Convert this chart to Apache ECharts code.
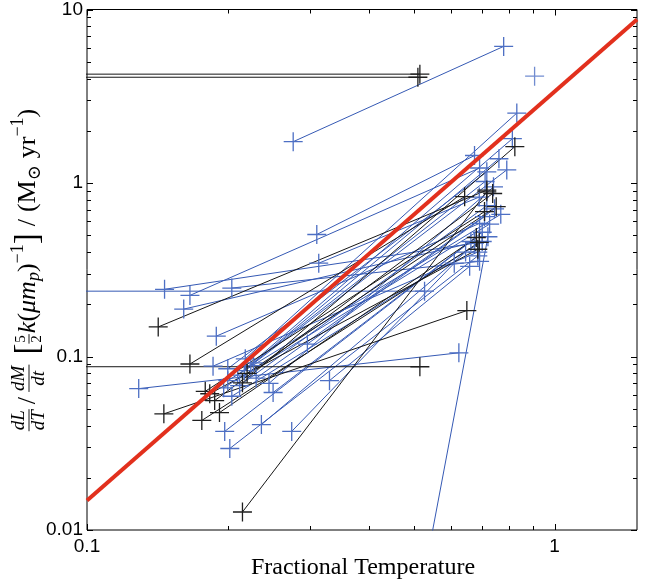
<!DOCTYPE html>
<html><head><meta charset="utf-8">
<script src="https://cdn.jsdelivr.net/npm/echarts@6/dist/echarts.min.js"></script>
<style>html,body{margin:0;padding:0;background:#fff}#c{width:662px;height:583px}</style>
</head><body><div id="c"></div>
<script>
// ---------- data ----------
const xTickLabels = [0.1, 1];
const yTickLabels = [0.01, 0.1, 1, 10];
const xMinorTicks = [0.2, 0.3, 0.4, 0.5, 0.6, 0.7, 0.8, 0.9];
const yMinorTicks = [0.02, 0.03, 0.04, 0.05, 0.06, 0.07, 0.08, 0.09,
                     0.2, 0.3, 0.4, 0.5, 0.6, 0.7, 0.8, 0.9,
                     2, 3, 4, 5, 6, 7, 8, 9];
// each segment: [T_start, value_start, T_end, value_end]
const blackSegments = [
  [0.01, 4.24, 0.515, 4.24],
  [0.01, 4.07, 0.51, 4.07],
  [0.01, 0.0873, 0.515, 0.0873],
  [0.142, 0.148, 0.716, 0.91],
  [0.166, 0.0905, 0.642, 0.834],
  [0.146, 0.0467, 0.649, 0.184],
  [0.176, 0.0428, 0.69, 0.455],
  [0.192, 0.0475, 0.68, 0.485],
  [0.1875, 0.0557, 0.737, 0.87],
  [0.215, 0.0127, 0.716, 0.89],
  [0.215, 0.0705, 0.822, 1.62],
  [0.183, 0.061, 0.685, 0.415],
  [0.179, 0.063, 0.708, 0.684],
  [0.22, 0.08, 0.75, 0.73]
];
const blueSegments = [
  [0.276, 1.73, 0.778, 6.13],
  [0.01, 0.238, 0.527, 0.238],
  [0.129, 0.0653, 0.624, 0.105],
  [0.467, 0.001, 0.72, 0.49],
  [0.31, 0.505, 0.674, 1.44],
  [0.1465, 0.244, 0.674, 0.45],
  [0.166, 0.225, 0.691, 1.22],
  [0.161, 0.1876, 0.674, 0.455],
  [0.204, 0.248, 0.691, 0.3535],
  [0.313, 0.345, 0.69, 0.83],
  [0.189, 0.131, 0.691, 0.585],
  [0.186, 0.088, 0.685, 0.40],
  [0.218, 0.097, 0.83, 2.53],
  [0.20, 0.0726, 0.767, 0.66],
  [0.204, 0.059, 0.70, 0.46],
  [0.197, 0.037, 0.662, 0.46],
  [0.202, 0.0295, 0.685, 0.38],
  [0.236, 0.0405, 0.645, 0.40],
  [0.274, 0.037, 0.61, 0.345],
  [0.33, 0.0726, 0.658, 0.331],
  [0.296, 0.118, 0.708, 0.64],
  [0.21, 0.078, 0.812, 1.80],
  [0.217, 0.083, 0.76, 1.38],
  [0.224, 0.0885, 0.79, 1.19],
  [0.20, 0.085, 0.716, 1.16],
  [0.227, 0.092, 0.71, 1.02],
  [0.196, 0.066, 0.726, 0.58],
  [0.23, 0.075, 0.744, 0.71],
  [0.212, 0.068, 0.716, 0.74],
  [0.25, 0.062, 0.70, 0.52],
  [0.245, 0.07, 0.74, 0.95]
];
const blueSingles = [[0.906, 4.13]];
const redLine = [[0.1, 0.0148], [1.5, 8.75]];

// ---------- chart ----------
const PLUS = 'path://M0,0L0,20M-10,10L10,10';
const BLUE_LINE = '#3559b4', BLUE_MARK = '#4d6fc4';
const BLACK_LINE = '#161616', BLACK_MARK = '#1e1e1e';
function near(a, b) { return Math.abs(a - b) < 1e-6 * Math.max(1, Math.abs(b)); }
function segSeries(s, lc, mc) {
  return {
    type: 'line', data: [[s[0], s[1]], [s[2], s[3]]],
    symbol: PLUS, symbolSize: 19, showSymbol: true, clip: true,
    lineStyle: { color: lc, width: 1 },
    itemStyle: { color: 'none', borderColor: mc, borderWidth: 1.3 },
    emphasis: { disabled: true }, silent: true, z: 2
  };
}
const series = [];
blueSegments.forEach(s => series.push(segSeries(s, BLUE_LINE, BLUE_MARK)));
blackSegments.forEach(s => series.push(segSeries(s, BLACK_LINE, BLACK_MARK)));
series.push({
  type: 'scatter', data: blueSingles, symbol: PLUS, symbolSize: 19,
  itemStyle: { color: 'none', borderColor: BLUE_MARK, borderWidth: 1.3 }, silent: true, z: 2
});
series.push({
  type: 'line', data: redLine, symbol: 'none', clip: true,
  lineStyle: { color: '#e2301d', width: 4 }, silent: true, z: 10
});
// tick marks (major + minor, mirrored on all four sides)
series.push({
  type: 'custom', silent: true, clip: false, z: 12, data: [[0.5, 1]],
  renderItem: function (params, api) {
    const ch = [];
    const bl = api.coord([0.1, 0.01]), tr = api.coord([1.5, 10]);
    const left = bl[0], bottom = bl[1], right = tr[0], top = tr[1];
    const ln = (x1, y1, x2, y2) => ch.push({ type: 'line', shape: { x1, y1, x2, y2 }, style: { stroke: '#000', lineWidth: 1 } });
    const xt = (v, len) => { const p = Math.round(api.coord([v, 1])[0]) + 0.5; ln(p, bottom, p, bottom - len); ln(p, top, p, top + len); };
    const yt = (v, len) => { const p = Math.round(api.coord([1, v])[1]) + 0.5; ln(left, p, left + len, p); ln(right, p, right - len, p); };
    xTickLabels.forEach(v => xt(v, 6));
    xMinorTicks.forEach(v => xt(v, 4));
    yTickLabels.forEach(v => yt(v, 6));
    yMinorTicks.forEach(v => yt(v, 4));
    return { type: 'group', children: ch };
  }
});

// ---------- y-axis label (math) ----------
const SERIF = '"Liberation Serif", "DejaVu Serif", serif';
const mctx = document.createElement('canvas').getContext('2d');
function fnt(size, it) { return (it ? 'italic ' : '') + size + 'px ' + SERIF; }
function tw(t, f) { mctx.font = f; return mctx.measureText(t).width; }
const labelSeq = [
  { frac: ['dL', 'dT'], size: 19, it: true },
  { gap: 5 }, { t: '/', size: 26 }, { gap: 5 },
  { frac: ['dM', 'dt'], size: 19, it: true },
  { gap: 10 }, { t: '[', size: 33 },
  { frac: ['5', '2'], size: 15 }, { gap: 1 },
  { t: 'k', size: 26, it: true }, { t: '(', size: 26 }, { t: 'μ', size: 26, it: true },
  { t: 'm', size: 26, it: true }, { t: 'p', size: 18, it: true, dy: 6 },
  { t: ')', size: 26 }, { t: '−1', size: 18, dy: -10 }, { t: ']', size: 33 },
  { gap: 7 }, { t: '/', size: 26 }, { gap: 7 },
  { t: '(M', size: 26 }, { t: '⊙', size: 18, dy: 7 }, { gap: 7 },
  { t: 'yr', size: 26 }, { t: '−1', size: 18, dy: -10 }, { t: ')', size: 26 }
];
const lab = [];
let cur = 0;
labelSeq.forEach(p => {
  if (p.gap) { cur += p.gap; return; }
  if (p.frac) {
    const f = fnt(p.size, p.it);
    const w = Math.max(tw(p.frac[0], f), tw(p.frac[1], f)) + 2;
    lab.push({ type: 'text', x: cur + w / 2, y: -p.size * 0.52, style: { text: p.frac[0], font: f, fill: '#000', align: 'center', verticalAlign: 'middle', textAlign: 'center', textVerticalAlign: 'middle' } });
    lab.push({ type: 'text', x: cur + w / 2, y: p.size * 0.55, style: { text: p.frac[1], font: f, fill: '#000', align: 'center', verticalAlign: 'middle', textAlign: 'center', textVerticalAlign: 'middle' } });
    lab.push({ type: 'line', shape: { x1: cur, y1: 0, x2: cur + w, y2: 0 }, style: { stroke: '#000', lineWidth: 0.9 } });
    cur += w;
    return;
  }
  const f = fnt(p.size, p.it);
  lab.push({ type: 'text', x: cur, y: (p.dy || 0) - 1, style: { text: p.t, font: f, fill: '#000', align: 'left', verticalAlign: 'middle', textAlign: 'left', textVerticalAlign: 'middle' } });
  cur += tw(p.t, f);
});
const labLen = cur;
lab.forEach(e => { if (e.type === 'text') e.x -= labLen / 2; else { e.shape.x1 -= labLen / 2; e.shape.x2 -= labLen / 2; } });

const chart = echarts.init(document.getElementById('c'), null, { renderer: 'canvas' });
chart.setOption({
  animation: false,
  backgroundColor: '#fff',
  grid: { left: 87, right: 25, top: 7, bottom: 53, show: true, borderColor: '#000', borderWidth: 1, backgroundColor: '#fff' },
  xAxis: {
    type: 'log', logBase: 10, min: 0.1, max: 1.5,
    axisLine: { show: false }, axisTick: { show: false }, splitLine: { show: false },
    axisLabel: {
      margin: 7, color: '#000', fontSize: 19, fontFamily: '"Liberation Sans", Arial, sans-serif',
      showMinLabel: true, showMaxLabel: false,
      formatter: v => { const m = xTickLabels.find(t => near(v, t)); return m === undefined ? '' : String(m); }
    }
  },
  yAxis: {
    type: 'log', logBase: 10, min: 0.01, max: 10,
    axisLine: { show: false }, axisTick: { show: false }, splitLine: { show: false },
    axisLabel: {
      margin: 4, color: '#000', fontSize: 19, fontFamily: '"Liberation Sans", Arial, sans-serif',
      formatter: v => { const m = yTickLabels.find(t => near(v, t)); return m === undefined ? '' : String(m); }
    }
  },
  graphic: [
    { type: 'text', x: 363, y: 568, style: { text: 'Fractional Temperature', font: '24px ' + SERIF, fill: '#000', align: 'center', verticalAlign: 'middle', textAlign: 'center', textVerticalAlign: 'middle' } },
    { type: 'group', x: 29, y: 270, rotation: Math.PI / 2, children: lab }
  ],
  series: series
});
</script></body></html>
